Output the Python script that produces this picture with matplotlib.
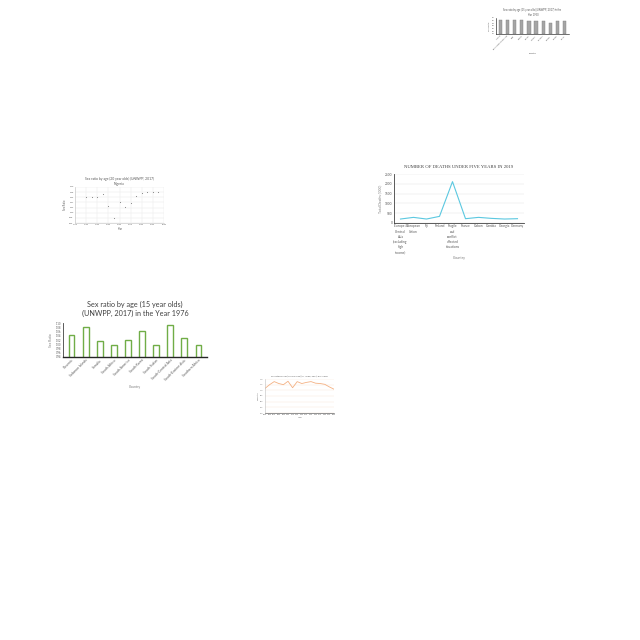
import numpy as np
import matplotlib
matplotlib.use("Agg")
import matplotlib.pyplot as plt

plt.rcParams['font.family'] = ['Lato', 'DejaVu Sans']

# chart A: sex ratio 15 year olds, 1950 (grey bars, top right)
a_countries = ["Albania", "Bosnia and Herzegovina", "Chad", "Croatia", "Cyprus",
               "Czechia", "Denmark", "Estonia", "Finland", "France"]
a_ratio = [1.03, 1.03, 1.03, 1.08, 0.98, 0.94, 0.98, 0.86, 0.98, 1.01]

# chart B: sex ratio 20 year olds, Nigeria (scatter)
b_years = [1960, 1970, 1980, 1990, 2000, 2010, 2020, 2030, 2040, 2050, 2060, 2070, 2080, 2090]
b_ratio = [1.061, 1.062, 1.063, 1.071, 1.025, 0.978, 1.041, 1.021, 1.039, 1.065,
           1.076, 1.079, 1.079, 1.080]

# chart C: deaths under five, 2019
c_countries = ["Europe &\nCentral\nAsia\n(excluding\nhigh\nincome)", "European\nUnion", "Fiji",
               "Finland", "Fragile\nand\nconflict\naffected\nsituations", "France", "Gabon",
               "Gambia", "Georgia", "Germany"]
c_deaths = [203, 287, 203, 338, 2111, 220, 287, 236, 203, 220]

# chart D: sex ratio 15 year olds, 1976 (green outline bars)
d_countries = ["Slovenia", "Solomon Islands", "Somalia", "South Africa", "South America",
               "South Korea", "South Sudan", "South-Central Asia", "South-Eastern Asia",
               "Southern Africa"]
d_ratio = [1.045, 1.083, 1.017, 0.998, 1.020, 1.062, 0.998, 1.089, 1.029, 0.998]

# chart E: sex ratio 20 year olds over time (orange line)
e_years = [1950, 1960, 1970, 1980, 1990, 2000, 2010, 2020, 2030, 2040, 2050, 2060,
           2070, 2080, 2090, 2100]
e_ratio = [1.017, 1.05, 1.077, 1.06, 1.05, 1.08, 1.023, 1.077, 1.06, 1.07, 1.077,
           1.063, 1.06, 1.053, 1.03, 1.01]

W = H = 640
fig = plt.figure(figsize=(6.4, 6.4), dpi=100)
fig.patch.set_facecolor("white")


def box(x0, y0, x1, y1):
    return fig.add_axes([x0 / W, 1 - y1 / H, (x1 - x0) / W, (y1 - y0) / H])


def tidy(ax, fs, color="#595959"):
    for s in ["top", "right"]:
        ax.spines[s].set_visible(False)
    ax.tick_params(labelsize=fs, length=0, pad=1, colors=color)
    for s in ["left", "bottom"]:
        ax.spines[s].set_linewidth(0.4)


# ---- A
ax = box(496, 18, 569, 34)
xa = np.arange(len(a_countries))
ax.bar(xa, a_ratio, width=0.45, color="#a5a5a5", edgecolor="#7f7f7f", linewidth=0.3)
ax.set_ylim(0, 1.2)
ax.set_yticks(np.arange(0, 1.21, 0.2))
ax.set_yticklabels([f"{v:.1f}" for v in np.arange(0, 1.21, 0.2)])
ax.set_xticks(xa)
ax.set_xticklabels(a_countries, rotation=45, ha="right", rotation_mode="anchor")
ax.set_xlim(-0.6, len(a_countries) - 0.4)
tidy(ax, 1.4)
ax.set_title("Sex ratio by age (15 year olds) (UNWPP, 2017) in the\nYear 1950",
             fontsize=1.8, color="#595959", pad=1.5, linespacing=1.3)
ax.set_xlabel("Country", fontsize=1.6, color="#595959", labelpad=2)
ax.set_ylabel("Sex Ratio", fontsize=1.6, color="#595959", labelpad=1)

# ---- B
ax = box(75, 187, 164, 223)
ax.scatter(b_years, b_ratio, s=0.6, color="#7f7f7f", marker="o", linewidths=0)
ax.set_xlim(1940, 2100)
ax.set_xticks(np.arange(1940, 2101, 20))
ax.set_ylim(0.96, 1.10)
yt = np.arange(0.96, 1.101, 0.02)
ax.set_yticks(yt)
ax.set_yticklabels([f"{v:.2f}" for v in yt])
ax.grid(True, color="#e6e6e6", linewidth=0.3)
ax.set_axisbelow(True)
tidy(ax, 1.5)
ax.spines["left"].set_color("#bfbfbf")
ax.spines["bottom"].set_color("#bfbfbf")
ax.set_title("Sex ratio by age (20 year olds) (UNWPP, 2017)\nNigeria",
             fontsize=2.4, color="#595959", pad=1.5, linespacing=1.2)
ax.set_xlabel("Year", fontsize=1.8, color="#595959", labelpad=1.5)
ax.set_ylabel("Sex Ratio", fontsize=1.8, color="#595959", labelpad=1.5)

# ---- C
ax = box(394, 174, 524, 223)
xc = np.arange(len(c_countries))
ax.plot(xc, c_deaths, color="#5bc8e0", linewidth=0.8)
ax.set_ylim(0, 2500)
ax.set_yticks(np.arange(0, 2501, 500))
ax.set_xticks(xc)
ax.set_xticklabels(c_countries, va="top", linespacing=1.4)
ax.set_xlim(-0.5, len(c_countries) - 0.5)
ax.grid(True, axis="y", color="#e6e6e6", linewidth=0.35)
ax.set_axisbelow(True)
tidy(ax, 2.3)
ax.spines["left"].set_color("#404040")
ax.spines["bottom"].set_color("#404040")
ax.spines["left"].set_linewidth(0.6)
ax.spines["bottom"].set_linewidth(0.6)
ax.set_title("NUMBER OF DEATHS UNDER FIVE YEARS IN 2019", fontsize=3.4,
             family="Liberation Serif", color="#404040", pad=4)
ax.set_xlabel("Country", fontsize=2.6, color="#7f7f7f", labelpad=1.5)
ax.set_ylabel("Total Deaths ('000)", fontsize=2.4, color="#7f7f7f", labelpad=2)

# ---- D
ax = box(63, 323, 207, 357)
xd = np.arange(len(d_countries))
ax.bar(xd, d_ratio, width=0.42, color="white", edgecolor="#70ad47", linewidth=1.0)
ax.set_ylim(0.94, 1.10)
yt = np.arange(0.94, 1.101, 0.02)
ax.set_yticks(yt)
ax.set_yticklabels([f"{v:.2f}" for v in yt])
ax.set_xticks(xd)
ax.set_xticklabels(d_countries, rotation=45, ha="right", rotation_mode="anchor")
ax.set_xlim(-0.6, len(d_countries) - 0.4)
tidy(ax, 2.4)
ax.tick_params(axis="y", labelsize=2.0)
ax.spines["left"].set_color("#404040")
ax.spines["bottom"].set_color("#262626")
ax.spines["bottom"].set_linewidth(1.0)
ax.spines["left"].set_linewidth(0.6)
ax.set_title("Sex ratio by age (15 year olds)\n(UNWPP, 2017) in the Year 1976",
             fontsize=5.2, color="#404040", pad=5, linespacing=1.25)
ax.set_xlabel("Country", fontsize=2.4, color="#7f7f7f", labelpad=3)
ax.set_ylabel("Sex Ratio", fontsize=2.4, color="#7f7f7f", labelpad=2)

# ---- E
ax = box(265, 379, 334, 413)
ax.plot(e_years, e_ratio, color="#f4b183", linewidth=0.6)
ax.set_xlim(1950, 2100)
ax.set_xticks(e_years)
ax.set_ylim(0.80, 1.10)
yt = np.arange(0.80, 1.101, 0.05)
ax.set_yticks(yt)
ax.set_yticklabels([f"{v:.2f}" for v in yt])
ax.grid(True, axis="y", color="#f8e3d4", linewidth=0.3)
tidy(ax, 1.2)
ax.spines["left"].set_color("#bfbfbf")
ax.spines["bottom"].set_color("#404040")
ax.set_title("Sex ratio by age (20 year olds) (UNWPP, 2017) in Malawi",
             fontsize=1.6, color="#595959", pad=2)
ax.set_xlabel("Year", fontsize=1.4, color="#595959", labelpad=1)
ax.set_ylabel("Sex Ratio", fontsize=1.4, color="#595959", labelpad=1)

fig.savefig("out.png", dpi=100, facecolor="white")
